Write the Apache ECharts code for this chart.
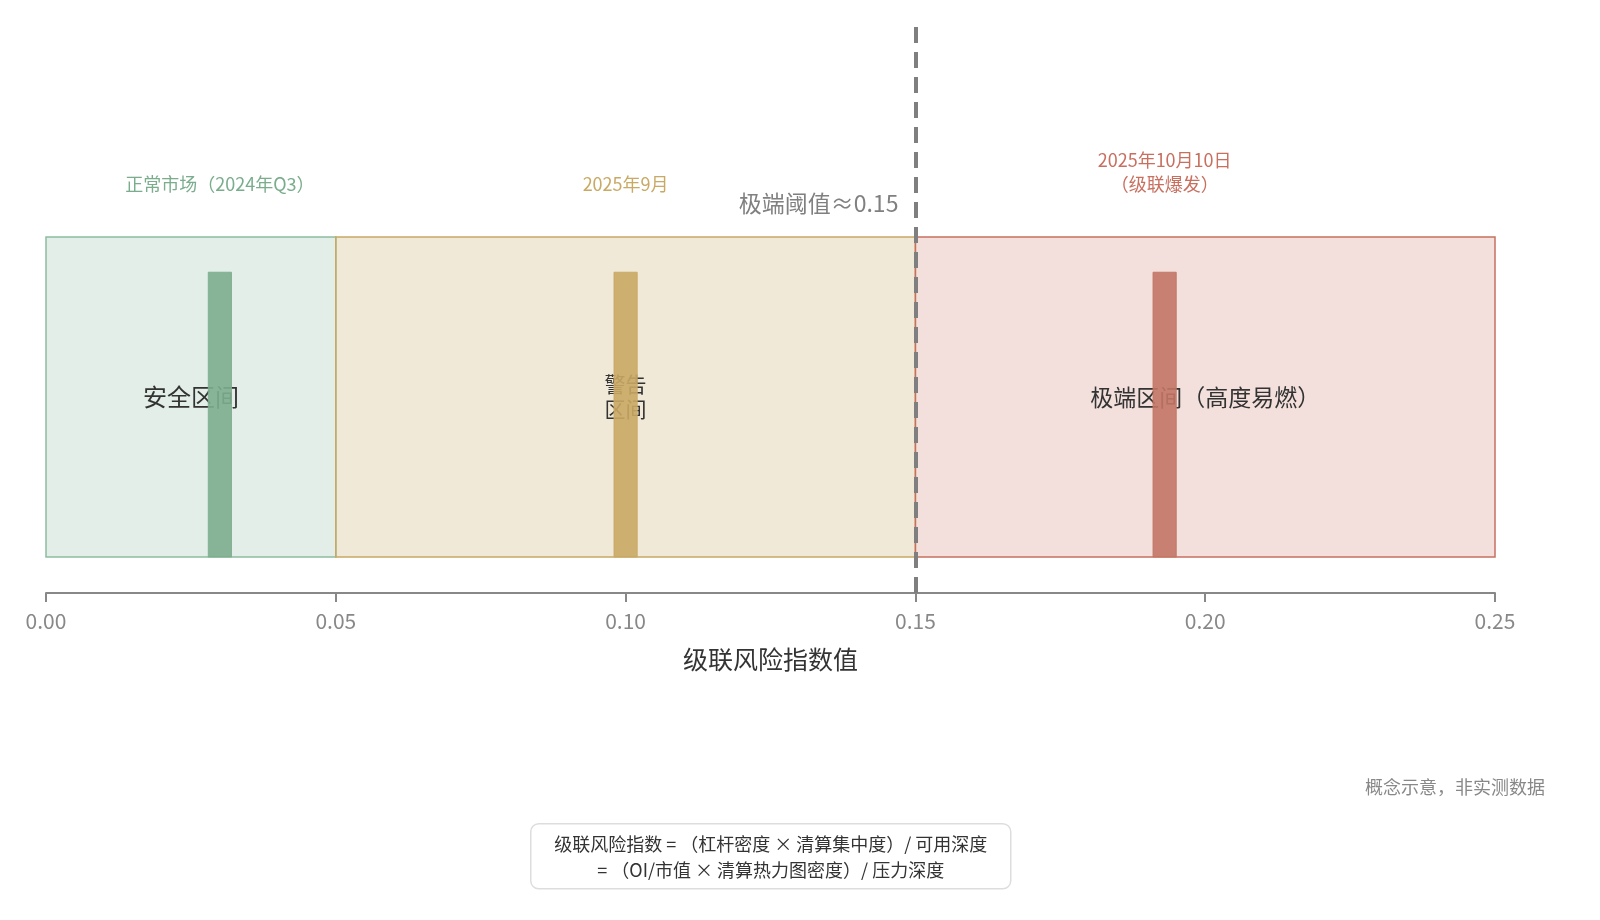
<!DOCTYPE html>
<html>
<head>
    <meta charset="utf-8">
    <style>
        html, body { margin: 0; padding: 0; background: #fff; }
        #chart-container { width: 1600px; height: 920px; }
    </style>
</head>
<body>
    <div id="chart-container"></div>

    <script type="text/javascript" src="https://cdn.jsdelivr.net/npm/echarts@6/dist/echarts.min.js"></script>
    <script type="text/javascript">
        // zones on the risk index scale
        var zoneNames = ['安全区间', '警告\n区间', '极端区间（高度易燃）'];
        var zoneStart = [0, 0.05, 0.15];
        var zoneEnd = [0.05, 0.15, 0.25];

        // market snapshots
        var eventNames = ['正常市场（2024年Q3）', '2025年9月', '2025年10月10日\n（级联爆发）'];
        var eventValues = [0.03, 0.10, 0.193];

        var threshold = 0.15;
        var thresholdLabel = '极端阈值≈0.15';

        var fillColors = ['rgba(141,189,159,0.25)', 'rgba(201,169,100,0.25)', 'rgba(200,112,96,0.22)'];
        var lineColors = ['#8dbd9f', '#c9a964', '#c87060'];
        var textColors = ['#7aad8c', '#c9a964', '#c87060'];
        var barColors = ['#7dae8e', '#c9a964', '#c27565'];
        var zoneFontSizes = [24, 21, 23];
        var font = '"Noto Sans CJK SC", "Noto Sans", sans-serif';

        var chartDom = document.getElementById('chart-container');
        var myChart = echarts.init(chartDom);

        var areas = zoneNames.map(function (name, i) {
            return [{
                name: name,
                xAxis: zoneStart[i],
                yAxis: 0,
                label: { fontSize: zoneFontSizes[i] },
                itemStyle: { color: fillColors[i], borderColor: lineColors[i], borderWidth: 1.5 }
            }, {
                xAxis: zoneEnd[i],
                yAxis: 1
            }];
        });

        var option = {
            animation: false,
            textStyle: { fontFamily: font },
            grid: { left: 46, right: 105, top: 22, bottom: 327 },
            xAxis: {
                type: 'value',
                min: 0,
                max: 0.25,
                interval: 0.05,
                name: '级联风险指数值',
                nameLocation: 'middle',
                nameGap: 54,
                nameTextStyle: { fontSize: 25, color: '#333', fontFamily: font },
                axisLine: { show: true, onZero: false, lineStyle: { color: '#888', width: 2 } },
                axisTick: { show: true, length: 9, lineStyle: { color: '#888', width: 2 } },
                axisLabel: {
                    margin: 18, fontSize: 21, color: '#888', fontFamily: font,
                    formatter: function (v) { return v.toFixed(2); }
                },
                splitLine: { show: false }
            },
            yAxis: { type: 'value', min: -0.1125, max: 1.672, show: false },
            series: [
                {
                    type: 'custom',
                    z: 3,
                    data: eventValues.map(function (v, i) { return [v, i]; }),
                    renderItem: function (params, api) {
                        var v = api.value(0);
                        var i = api.value(1);
                        var p0 = api.coord([v - 0.002, 0]);
                        var p1 = api.coord([v + 0.002, 0.89]);
                        var top = api.coord([v, 1]);
                        return {
                            type: 'group',
                            children: [{
                                type: 'rect',
                                shape: { x: p0[0], y: p1[1], width: p1[0] - p0[0], height: p0[1] - p1[1] },
                                style: { fill: barColors[i], opacity: 0.9, stroke: barColors[i], lineWidth: 1 }
                            }, {
                                type: 'text',
                                x: top[0],
                                y: top[1] - 41,
                                style: {
                                    text: eventNames[i],
                                    fill: textColors[i],
                                    font: '18px ' + font,
                                    align: 'center',
                                    verticalAlign: 'bottom',
                                    lineHeight: 24
                                }
                            }]
                        };
                    },
                    markArea: {
                        silent: true,
                        z: 1,
                        label: {
                            show: true,
                            position: 'inside',
                            color: '#333',
                            fontSize: 23,
                            lineHeight: 25,
                            fontFamily: font
                        },
                        data: areas
                    },
                    markLine: {
                        silent: true,
                        symbol: 'none',
                        z: 5,
                        label: { show: false },
                        lineStyle: { color: '#7f7f7f', width: 4, type: [16, 9] },
                        data: [{ xAxis: threshold }]
                    },
                    markPoint: {
                        silent: true,
                        symbol: 'circle',
                        symbolSize: 0,
                        label: {
                            show: true,
                            position: 'left',
                            distance: 17,
                            color: '#808080',
                            fontSize: 23,
                            fontFamily: font,
                            formatter: thresholdLabel
                        },
                        data: [{ coord: [threshold, 1.106] }]
                    }
                }
            ],
            graphic: [
                {
                    type: 'text',
                    right: 55,
                    top: 778,
                    style: { text: '概念示意，非实测数据', fill: '#888', font: '18px ' + font }
                },
                {
                    type: 'group',
                    left: 530,
                    top: 823,
                    children: [{
                        type: 'rect',
                        shape: { x: 0, y: 0, width: 480, height: 65, r: 8 },
                        style: { fill: '#fff', stroke: '#ddd', lineWidth: 1.5 }
                    }, {
                        type: 'text',
                        x: 240,
                        y: 33,
                        style: {
                            text: '级联风险指数 = （杠杆密度 × 清算集中度）/ 可用深度\n= （OI/市值 × 清算热力图密度）/ 压力深度',
                            fill: '#333',
                            font: '18px ' + font,
                            align: 'center',
                            verticalAlign: 'middle',
                            lineHeight: 26
                        }
                    }]
                }
            ]
        };
        myChart.setOption(option);
    </script>
</body>
</html>
